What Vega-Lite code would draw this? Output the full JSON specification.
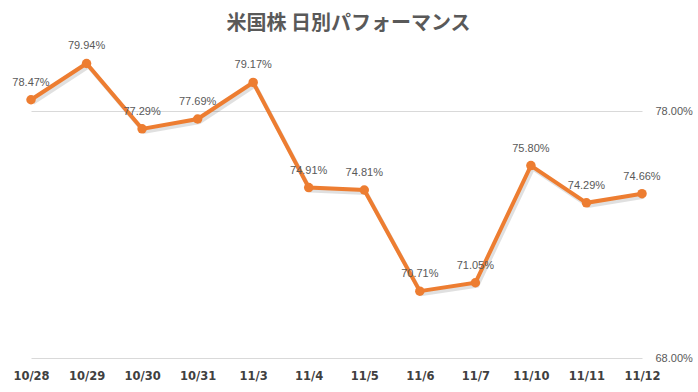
{
  "$schema": "https://vega.github.io/schema/vega-lite/v6.json",
  "autosize": {"type": "none"},
  "width": 611,
  "height": 296,
  "padding": {"left": 31, "top": 62, "right": 56, "bottom": 34},
  "background": "white",
  "title": {
    "text": "米国株 日別パフォーマンス",
    "font": "Noto Sans CJK JP",
    "fontSize": 20,
    "fontWeight": "bold",
    "color": "#595959",
    "anchor": "middle",
    "dx": 12,
    "offset": 6
  },
  "data": {
    "values": [
      {"date": "10/28", "value": 0.7847},
      {"date": "10/29", "value": 0.7994},
      {"date": "10/30", "value": 0.7729},
      {"date": "10/31", "value": 0.7769},
      {"date": "11/3", "value": 0.7917},
      {"date": "11/4", "value": 0.7491},
      {"date": "11/5", "value": 0.7481},
      {"date": "11/6", "value": 0.7071},
      {"date": "11/7", "value": 0.7105},
      {"date": "11/10", "value": 0.7580},
      {"date": "11/11", "value": 0.7429},
      {"date": "11/12", "value": 0.7466}
    ]
  },
  "encoding": {
    "x": {
      "field": "date",
      "type": "ordinal",
      "sort": null,
      "scale": {"type": "point", "padding": 0},
      "axis": {
        "title": null,
        "labelAngle": 0,
        "domain": false,
        "ticks": false,
        "labelPadding": 12,
        "labelFont": "DejaVu Sans",
        "labelFontSize": 11.5,
        "labelFontWeight": "bold",
        "labelColor": "#404040"
      }
    },
    "y": {
      "field": "value",
      "type": "quantitative",
      "scale": {"domain": [0.68, 0.80], "zero": false, "nice": false},
      "axis": {
        "orient": "right",
        "title": null,
        "values": [0.68, 0.78],
        "format": ".2%",
        "domain": false,
        "ticks": false,
        "labelPadding": 13,
        "labelFont": "Liberation Sans",
        "labelFontSize": 11,
        "labelColor": "#595959",
        "gridColor": "#D9D9D9",
        "gridWidth": 1
      }
    }
  },
  "layer": [
    {
      "mark": {"type": "line", "color": "#000000", "opacity": 0.12, "strokeWidth": 4, "xOffset": 2, "yOffset": 3}
    },
    {
      "mark": {"type": "line", "color": "#ED7D31", "strokeWidth": 4}
    },
    {
      "mark": {"type": "point", "filled": true, "color": "#ED7D31", "size": 90, "opacity": 1}
    },
    {
      "mark": {"type": "text", "dy": -17, "font": "Liberation Sans", "fontSize": 11, "color": "#595959"},
      "encoding": {"text": {"field": "value", "type": "quantitative", "format": ".2%"}}
    }
  ],
  "config": {"view": {"stroke": null}}
}
